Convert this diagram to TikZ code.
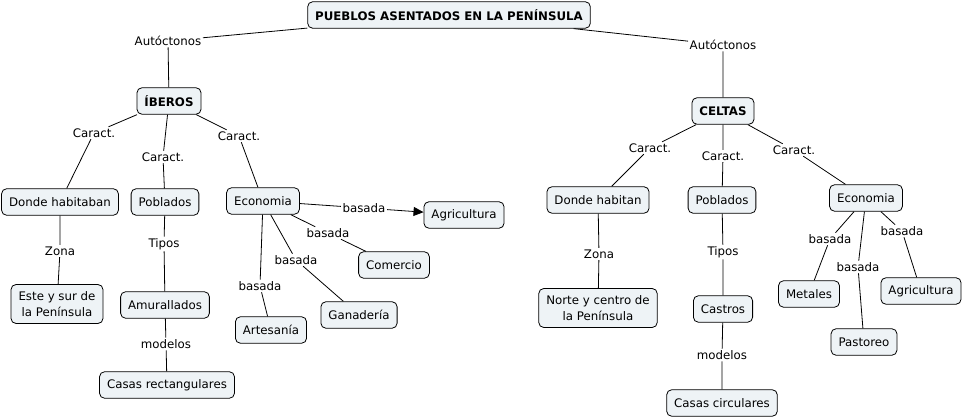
\documentclass[tikz,border=0pt]{standalone}
\usepackage{fontspec}
\setmainfont{DejaVu Sans}
\usetikzlibrary{arrows.meta}
\definecolor{boxfill}{HTML}{EEF3F6}
\begin{document}
\begin{tikzpicture}[x=1pt,y=-1pt,
 concept/.style={draw=black, fill=boxfill, rounded corners=5pt, line width=0.8pt, inner xsep=7.5pt, inner ysep=4pt, minimum height=26.5pt, font=\fontsize{11.8}{15}\selectfont, align=center},
 twoline/.style={concept, font=\fontsize{11.8}{16}\selectfont, inner ysep=5pt, minimum height=39pt},
 rootc/.style={concept, font=\bfseries\fontsize{11.8}{15}\selectfont},
 lab/.style={inner sep=1.5pt, font=\fontsize{11.8}{15}\selectfont},
 link/.style={line width=0.8pt}]
\useasboundingbox (0,0) rectangle (964,419);
% concepts
\node[rootc] (root) at (449,15) {PUEBLOS ASENTADOS EN LA PENÍNSULA};
\node[rootc] (ib) at (169,101) {ÍBEROS};
\node[rootc] (ce) at (723,111) {CELTAS};
\node[concept] (dh) at (60,202) {Donde habitaban};
\node[twoline] (es) at (57,304) {Este y sur de\\la Península};
\node[concept] (po1) at (165,202) {Poblados};
\node[concept] (am) at (165,305) {Amurallados};
\node[concept] (cr) at (167,385) {Casas rectangulares};
\node[concept] (ec1) at (263,201) {Economia};
\node[concept] (ag1) at (464,215) {Agricultura};
\node[concept] (co) at (394,265) {Comercio};
\node[concept] (ga) at (359,315) {Ganadería};
\node[concept] (ar) at (271,330) {Artesanía};
\node[concept] (dh2) at (598,200) {Donde habitan};
\node[twoline] (no) at (598,308) {Norte y centro de\\la Península};
\node[concept] (po2) at (722,200) {Poblados};
\node[concept] (ca) at (723,309) {Castros};
\node[concept] (cc) at (722,403) {Casas circulares};
\node[concept] (ec2) at (866,198) {Economia};
\node[concept] (me) at (809,294) {Metales};
\node[concept] (pa) at (864,342) {Pastoreo};
\node[concept] (ag2) at (921,291) {Agricultura};
% labels
\node[lab] (l1) at (168,41) {Autóctonos};
\node[lab] (l2) at (723,45) {Autóctonos};
\node[lab] (l3) at (94,133) {Caract.};
\node[lab] (l4) at (163,157) {Caract.};
\node[lab] (l5) at (239,136) {Caract.};
\node[lab] (l6) at (60,251) {Zona};
\node[lab] (l7) at (164,244) {Tipos};
\node[lab] (l8) at (166,344) {modelos};
\node[lab] (l9) at (364,208) {basada};
\node[lab] (l10) at (328,233) {basada};
\node[lab] (l11) at (296,260) {basada};
\node[lab] (l12) at (260,286) {basada};
\node[lab] (l13) at (650,148) {Caract.};
\node[lab] (l14) at (723,156) {Caract.};
\node[lab] (l15) at (794,150) {Caract.};
\node[lab] (l16) at (599,254) {Zona};
\node[lab] (l17) at (723,252) {Tipos};
\node[lab] (l18) at (722,355) {modelos};
\node[lab] (l19) at (830,239) {basada};
\node[lab] (l20) at (858,267) {basada};
\node[lab] (l21) at (902,231) {basada};
% links
\draw[link] (root) -- (l1) -- (ib);
\draw[link] (root) -- (l2) -- (ce);
\draw[link] (ib) -- (l3) -- (dh);
\draw[link] (ib) -- (l4) -- (po1);
\draw[link] (ib) -- (l5) -- (ec1);
\draw[link] (dh) -- (l6) -- (es);
\draw[link] (po1) -- (l7) -- (am);
\draw[link] (am) -- (l8) -- (cr);
\draw[link] (ec1) -- (l9);
\draw[link,-{Triangle[length=10pt,width=9pt]}] (l9) -- (ag1);
\draw[link] (ec1) -- (l10) -- (co);
\draw[link] (ec1) -- (l11) -- (ga);
\draw[link] (ec1) -- (l12) -- (ar);
\draw[link] (ce) -- (l13) -- (dh2);
\draw[link] (ce) -- (l14) -- (po2);
\draw[link] (ce) -- (l15) -- (ec2);
\draw[link] (dh2) -- (l16) -- (no);
\draw[link] (po2) -- (l17) -- (ca);
\draw[link] (ca) -- (l18) -- (cc);
\draw[link] (ec2) -- (l19) -- (me);
\draw[link] (ec2) -- (l20) -- (pa);
\draw[link] (ec2) -- (l21) -- (ag2);
\end{tikzpicture}
\end{document}
